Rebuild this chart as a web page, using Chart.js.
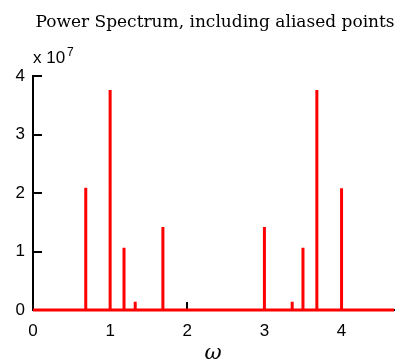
<!DOCTYPE html>
<html>
<head>
<meta charset="utf-8">
<script src="https://cdn.jsdelivr.net/npm/chart.js@4/dist/chart.umd.min.js"></script>
<style>
  html, body { margin: 0; padding: 0; background: #fff; }
  #wrap { width: 403px; height: 362px; position: relative; }
</style>
</head>
<body>
<div id="wrap"><canvas id="spectrum"></canvas></div>
<script>
// spike positions (omega) and heights (power)
const spikeX = [0.684, 1.0, 1.18, 1.325, 1.684, 3.0, 3.36, 3.50, 3.68, 4.0];
const spikeY = [2.09e7, 3.76e7, 1.065e7, 0.14e7, 1.42e7, 1.42e7, 0.14e7, 1.065e7, 3.76e7, 2.08e7];
const omegaMax = 4.68;
const xTicks = [0, 1, 2, 3, 4];
const yTicks = [0, 1e7, 2e7, 3e7, 4e7];

// each spike goes up and back down to zero
const points = [{ x: 0, y: 0 }];
spikeX.forEach((x, i) => {
    points.push({ x: x, y: 0 }, { x: x, y: spikeY[i] }, { x: x, y: 0 });
});
points.push({ x: omegaMax, y: 0 });

const tickFont = { family: 'Liberation Sans, Arial, sans-serif', size: 17 };

// matlab style ticks pointing into the plot
const inwardTicks = {
    id: 'inwardTicks',
    beforeDatasetsDraw(chart) {
        const ctx = chart.ctx, area = chart.chartArea;
        const xs = chart.scales.x, ys = chart.scales.y;
        ctx.save();
        ctx.strokeStyle = '#000';
        ctx.lineWidth = 2;
        ctx.beginPath();
        xTicks.forEach(v => {
            const px = Math.round(xs.getPixelForValue(v));
            ctx.moveTo(px, area.bottom);
            ctx.lineTo(px, area.bottom - 8);
        });
        yTicks.forEach(v => {
            const py = Math.round(ys.getPixelForValue(v));
            ctx.moveTo(area.left, py);
            ctx.lineTo(area.left + 9, py);
        });
        ctx.stroke();
        ctx.restore();
    },
    afterDraw(chart) {
        const ctx = chart.ctx;
        ctx.save();
        ctx.fillStyle = '#000';
        ctx.textAlign = 'center';
        ctx.textBaseline = 'alphabetic';
        ctx.font = '17px "DejaVu Serif", serif';
        ctx.fillText('Power Spectrum, including aliased points', 215, 27);

        ctx.textAlign = 'left';
        ctx.font = '17px "Liberation Sans", Arial, sans-serif';
        ctx.fillText('x 10', 33, 63);
        ctx.font = '12px "Liberation Sans", Arial, sans-serif';
        ctx.fillText('7', 67, 56);

        ctx.textAlign = 'center';
        ctx.font = 'italic 21px "DejaVu Serif", serif';
        ctx.fillText('ω', 213, 359);
        ctx.restore();
    }
};

new Chart(document.getElementById('spectrum'), {
    type: 'scatter',
    data: {
        datasets: [{
            data: points,
            showLine: true,
            borderColor: '#ff0000',
            borderWidth: 3,
            pointRadius: 0,
            tension: 0,
            clip: 6
        }]
    },
    options: {
        responsive: true,
        maintainAspectRatio: false,
        animation: false,
        layout: { padding: { left: 0, top: 76, right: 9, bottom: 0 } },
        plugins: { legend: { display: false }, tooltip: { enabled: false } },
        scales: {
            x: {
                type: 'linear', min: 0, max: omegaMax,
                afterBuildTicks: s => { s.ticks = xTicks.map(v => ({ value: v })); },
                afterFit: s => { s.height = 52; },
                grid: { display: false, drawTicks: false },
                border: { display: true, color: '#000', width: 2 },
                ticks: { color: '#000', font: tickFont, padding: 11, maxRotation: 0 }
            },
            y: {
                type: 'linear', min: 0, max: 4e7,
                afterBuildTicks: s => { s.ticks = yTicks.map(v => ({ value: v })); },
                afterFit: s => { s.width = 33; },
                grid: { display: false, drawTicks: false },
                border: { display: true, color: '#000', width: 2 },
                ticks: { color: '#000', font: tickFont, padding: 8, callback: v => v / 1e7 }
            }
        }
    },
    plugins: [inwardTicks]
});
</script>
</body>
</html>
